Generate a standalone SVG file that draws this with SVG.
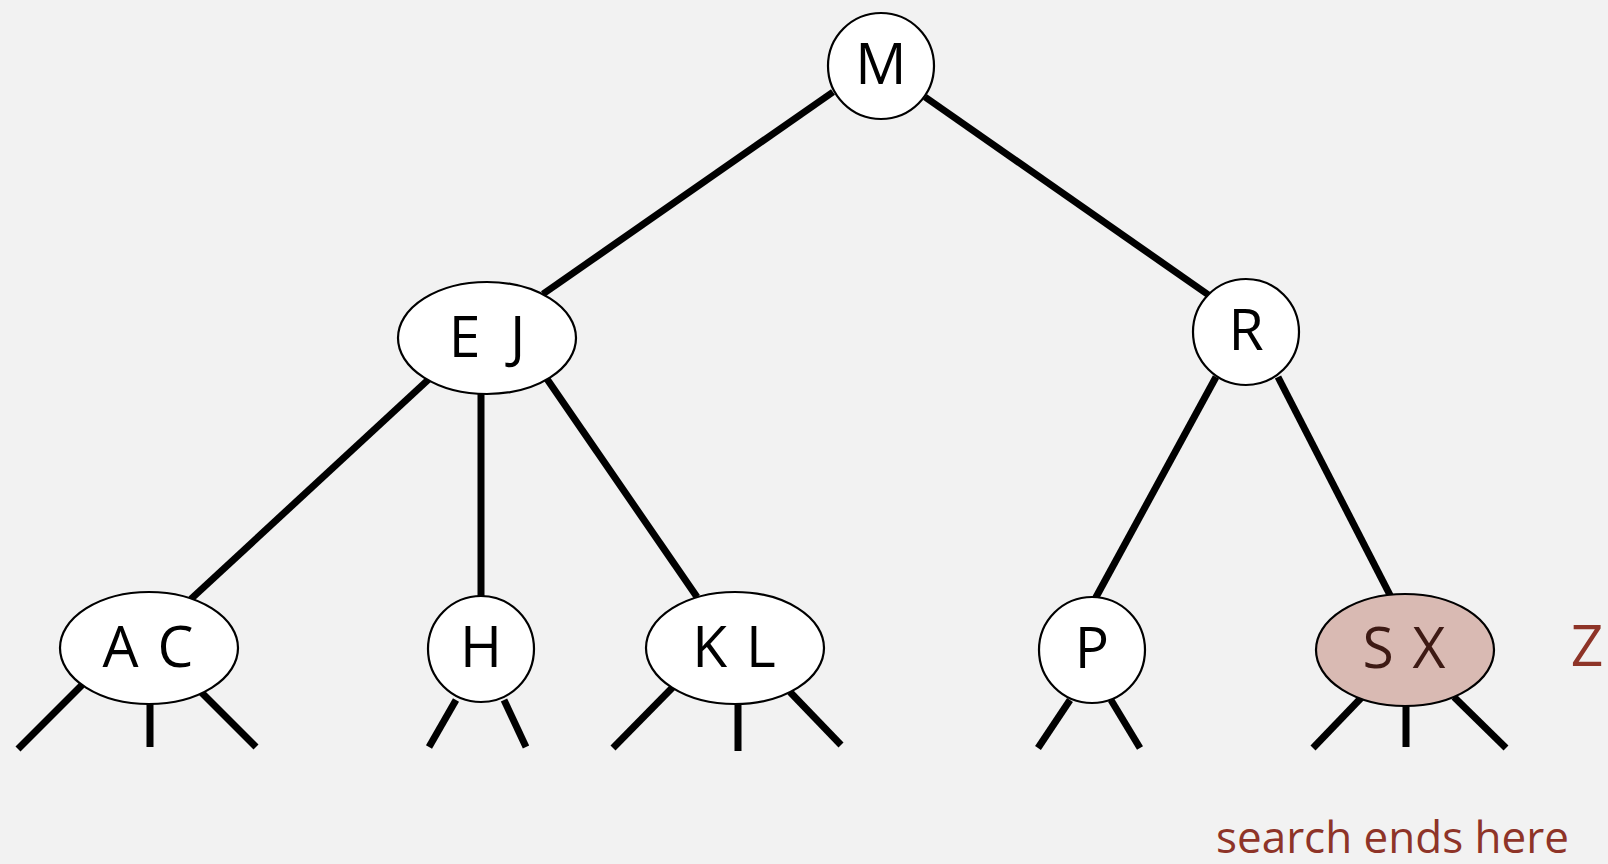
<svg xmlns="http://www.w3.org/2000/svg" width="1608" height="864" viewBox="0 0 1608 864">
<style>
.edge{stroke:#000;stroke-width:7;fill:none}
.node{fill:#fff;stroke:#000;stroke-width:2.2}
.hl{fill:#d9bab3;stroke:#000;stroke-width:2.2}
.lbl{font-family:"Open Sans","Noto Sans",sans-serif;font-size:57px;fill:#000;text-anchor:middle}
.hlt{fill:#3d1a14}
.red{font-family:"Open Sans","Noto Sans",sans-serif;fill:#8e3428}
</style>
<rect width="1608" height="864" fill="#f2f2f2"/>
<g id="connectors">
<line class="edge" x1="833" y1="92" x2="543" y2="294"/>
<line class="edge" x1="925" y1="97" x2="1210" y2="296"/>
<line class="edge" x1="429" y1="379" x2="191" y2="599"/>
<line class="edge" x1="481" y1="394" x2="481" y2="597"/>
<line class="edge" x1="547" y1="379" x2="697" y2="597"/>
<line class="edge" x1="1216" y1="377" x2="1095" y2="599"/>
<line class="edge" x1="1278" y1="377" x2="1391" y2="597"/>
<line class="edge" x1="82" y1="685" x2="18" y2="749"/>
<line class="edge" x1="150" y1="704" x2="150" y2="747"/>
<line class="edge" x1="201" y1="692" x2="256" y2="747"/>
<line class="edge" x1="456" y1="700" x2="429" y2="747"/>
<line class="edge" x1="504" y1="700" x2="526" y2="747"/>
<line class="edge" x1="673" y1="687" x2="613" y2="748"/>
<line class="edge" x1="738" y1="704" x2="738" y2="751"/>
<line class="edge" x1="790" y1="692" x2="841" y2="745"/>
<line class="edge" x1="1070" y1="700" x2="1038" y2="748"/>
<line class="edge" x1="1111" y1="700" x2="1140" y2="748"/>
<line class="edge" x1="1362" y1="697" x2="1313" y2="748"/>
<line class="edge" x1="1406" y1="706" x2="1406" y2="747"/>
<line class="edge" x1="1454" y1="697" x2="1506" y2="748"/>
</g>
<g id="node-M"><circle class="node" cx="881" cy="66" r="53"/><text class="lbl" x="881" y="84">M</text></g>
<g id="node-EJ"><ellipse class="node" cx="487" cy="338" rx="89" ry="56"/><text class="lbl" x="487" y="357" xml:space="preserve">E  J</text></g>
<g id="node-R"><circle class="node" cx="1246" cy="332" r="53"/><text class="lbl" x="1246" y="350">R</text></g>
<g id="node-AC"><ellipse class="node" cx="149" cy="648" rx="89" ry="56"/><text class="lbl" x="149" y="667" letter-spacing="2">A C</text></g>
<g id="node-H"><circle class="node" cx="481" cy="649" r="53"/><text class="lbl" x="481" y="667">H</text></g>
<g id="node-KL"><ellipse class="node" cx="735" cy="648" rx="89" ry="56"/><text class="lbl" x="735" y="667" letter-spacing="2">K L</text></g>
<g id="node-P"><circle class="node" cx="1092" cy="650" r="53"/><text class="lbl" x="1092" y="668">P</text></g>
<g id="node-SX"><ellipse class="hl" cx="1405" cy="650" rx="89" ry="56"/><text class="lbl hlt" x="1405" y="668" letter-spacing="2">S X</text></g>
<text class="red" x="1587" y="666" font-size="57" text-anchor="middle">Z</text>
<text class="red" x="1569" y="853" font-size="44" text-anchor="end">search ends here</text>
</svg>
